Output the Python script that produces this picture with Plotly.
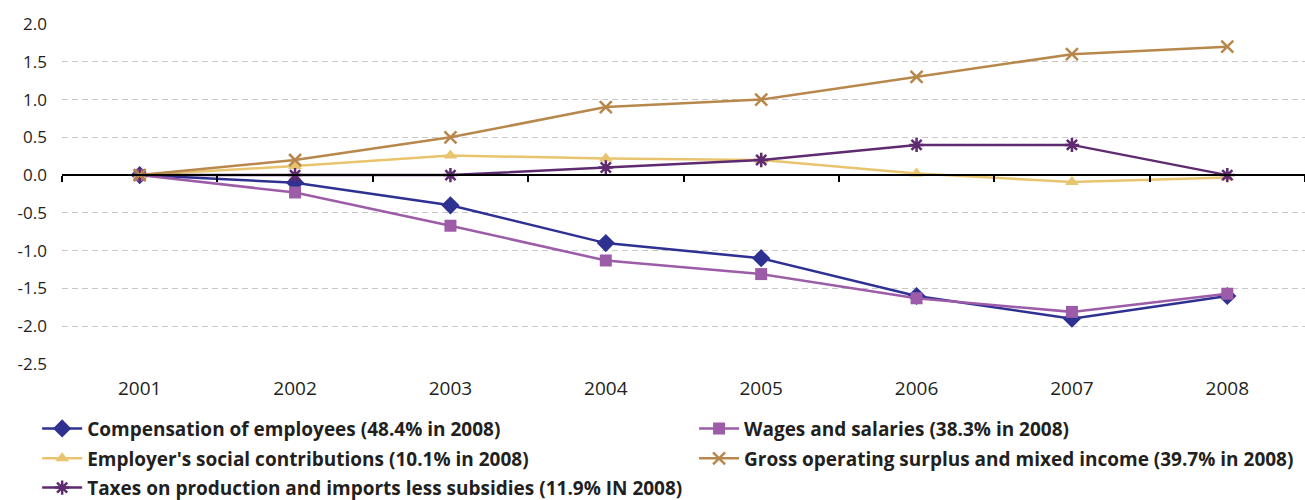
import plotly.graph_objects as go

years = ["2001", "2002", "2003", "2004", "2005", "2006", "2007", "2008"]

compensation = [0.0, -0.1, -0.4, -0.9, -1.1, -1.6, -1.9, -1.6]
wages = [0.0, -0.23, -0.67, -1.13, -1.31, -1.63, -1.81, -1.57]
employer_contrib = [0.0, 0.12, 0.26, 0.22, 0.2, 0.02, -0.09, -0.03]
taxes = [0.0, 0.0, 0.0, 0.1, 0.2, 0.4, 0.4, 0.0]
gross_surplus = [0.0, 0.2, 0.5, 0.9, 1.0, 1.3, 1.6, 1.7]

y_ticks = [2.0, 1.5, 1.0, 0.5, 0.0, -0.5, -1.0, -1.5, -2.0, -2.5]

FONT = "Open Sans"
TEXT = "#231F20"
x_idx = list(range(len(years)))

# legend slots in paper coordinates
COL1, COL2 = -0.0200, 0.5085
ROW1, ROW2, ROW3 = -0.190, -0.278, -0.364

series = [
    dict(name="Compensation of employees (48.4% in 2008)", y=compensation,
         color="#2E3192", symbol="diamond", size=14, open=False,
         legend="legend", slot=(COL1, ROW1), xaxis="x"),
    dict(name="Wages and salaries (38.3% in 2008)", y=wages,
         color="#9C5CA7", symbol="square", size=12, open=False,
         legend="legend2", slot=(COL2, ROW1), xaxis="x"),
    dict(name="Employer's social contributions (10.1% in 2008)", y=employer_contrib,
         color="#E9C46E", symbol="triangle-up", size=12, open=False,
         legend="legend3", slot=(COL1, ROW2), xaxis="x"),
    dict(name="Taxes on production and imports less subsidies (11.9% IN 2008)", y=taxes,
         color="#5E2A70", symbol="asterisk-open", size=12, open=True,
         legend="legend5", slot=(COL1, ROW3), xaxis="x"),
    # drawn on the overlaid baseline axis (same range) so it sits on top
    dict(name="Gross operating surplus and mixed income (39.7% in 2008)", y=gross_surplus,
         color="#B8874C", symbol="x-thin-open", size=12, open=True,
         legend="legend4", slot=(COL2, ROW2), xaxis="x2"),
]

fig = go.Figure()
legend_layout = {}
for s in series:
    marker = dict(symbol=s["symbol"], size=s["size"], color=s["color"])
    if s["open"]:
        marker["line"] = dict(color=s["color"], width=2.5)
    fig.add_trace(go.Scatter(
        x=x_idx, y=s["y"], name=s["name"], mode="lines+markers",
        line=dict(color=s["color"], width=2.5), marker=marker,
        legend=s["legend"], xaxis=s["xaxis"], yaxis="y",
    ))
    legend_layout[s["legend"]] = dict(
        x=s["slot"][0], y=s["slot"][1], xanchor="left", yanchor="middle",
        orientation="v", itemwidth=40,
        font=dict(family=FONT, size=19, color=TEXT, weight="bold"),
        bgcolor="rgba(0,0,0,0)", borderwidth=0,
    )

fig.update_layout(
    width=1305, height=500,
    margin=dict(l=62, r=0, t=24, b=136, autoexpand=False),
    paper_bgcolor="white", plot_bgcolor="white",
    showlegend=True,
    font=dict(family=FONT, size=17, color=TEXT),
    xaxis=dict(
        range=[-0.5, len(years) - 0.5],
        tickmode="array", tickvals=x_idx, ticktext=years,
        showgrid=False, zeroline=False, showline=False,
        ticks="", ticklabelstandoff=11,
        tickfont=dict(family=FONT, size=19, color=TEXT),
    ),
    # baseline axis at y = 0 carrying the category boundary ticks
    xaxis2=dict(
        overlaying="x", anchor="free", position=2.5 / 4.5,
        range=[-0.5, len(years) - 0.5],
        tickmode="array", tickvals=[i - 0.5 for i in range(len(years) + 1)],
        ticks="outside", ticklen=6, tickwidth=1.5, tickcolor="#000000",
        showticklabels=False, showgrid=False, zeroline=False,
        showline=True, linecolor="#000000", linewidth=1.5,
    ),
    yaxis=dict(
        range=[-2.5, 2.0],
        tickmode="array", tickvals=y_ticks,
        ticktext=[f"{v:.1f}" for v in y_ticks],
        showgrid=True, gridcolor="#C8C8C8", gridwidth=1, griddash="6px,4px",
        zeroline=False, showline=False, ticks="", ticklabelstandoff=14,
        tickfont=dict(family=FONT, size=17, color=TEXT),
    ),
    **legend_layout,
)

fig.write_html("out.html")
